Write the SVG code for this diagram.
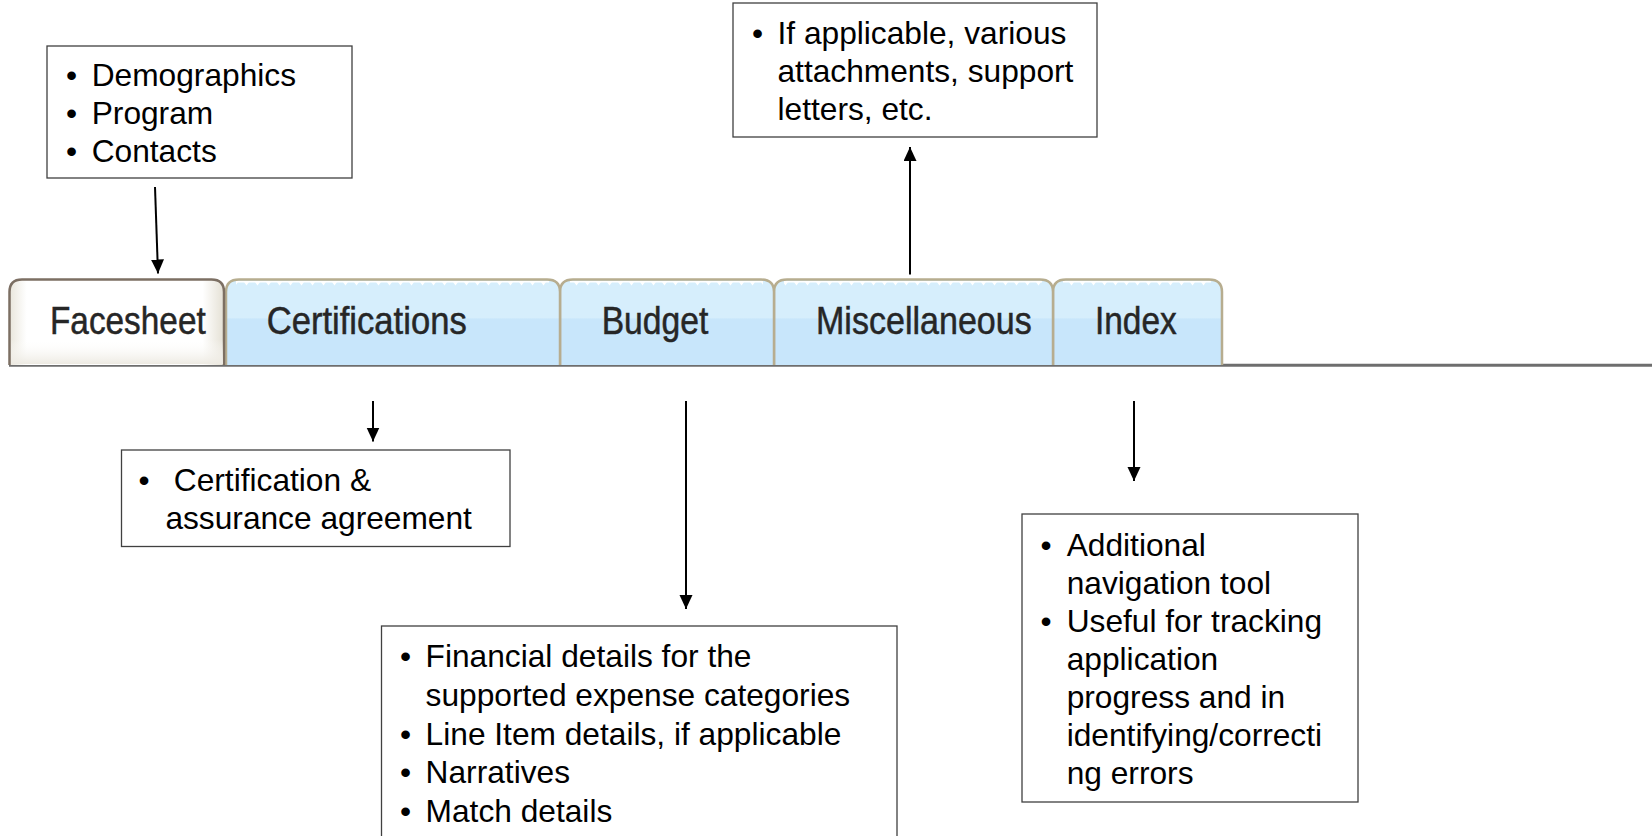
<svg xmlns="http://www.w3.org/2000/svg" width="1652" height="836" viewBox="0 0 1652 836">
<style>
.box{fill:#fff;stroke:#404040;stroke-width:1.3}
.t{font-family:"Liberation Sans",Arial,sans-serif;font-size:31.7px;fill:#000}
.tab{fill:url(#blue);stroke:#B7AD8F;stroke-width:2.5}
.tl{font-family:"Liberation Sans",Arial,sans-serif;font-size:38px;fill:#262626;stroke:#262626;stroke-width:0.5}
.conn{stroke:#000;stroke-width:2;fill:none;marker-end:url(#arr)}
</style>
<defs>
<marker id="arr" markerUnits="userSpaceOnUse" markerWidth="14" markerHeight="14" refX="14" refY="6.5" orient="auto">
<path d="M0,0 L14,6.5 L0,13 z" fill="#000"/>
</marker>
<linearGradient id="blue" x1="0" y1="0" x2="0" y2="1">
<stop offset="0" stop-color="#D6EEFC"/>
<stop offset="0.45" stop-color="#D6EEFC"/>
<stop offset="0.46" stop-color="#C8E6FB"/>
<stop offset="1" stop-color="#C8E6FB"/>
</linearGradient>
<linearGradient id="wh" x1="0" y1="0" x2="1" y2="0">
<stop offset="0" stop-color="#E9E6DC"/>
<stop offset="0.08" stop-color="#FFFFFF"/>
<stop offset="0.9" stop-color="#FFFFFF"/>
<stop offset="1" stop-color="#E4E0D4"/>
</linearGradient>
<linearGradient id="whv" x1="0" y1="0" x2="0" y2="1">
<stop offset="0.7" stop-color="#FFFFFF" stop-opacity="0"/>
<stop offset="1" stop-color="#EDEAE2" stop-opacity="1"/>
</linearGradient>
<pattern id="zig" x="0" y="281" width="11" height="5" patternUnits="userSpaceOnUse">
<rect x="0" y="0" width="11" height="1.5" fill="#fff"/>
<polygon points="2,1 7,1 4.5,4.5" fill="#fff"/>
</pattern>
</defs>

<g id="tabbar">
<line x1="9" y1="365.3" x2="1652" y2="365.3" stroke="#6E6E6E" stroke-width="3"/>
</g>

<g id="tab-index">
<path class="tab" d="M1053,365 V292 Q1053,279.5 1066,279.5 H1209 Q1222,279.5 1222,292 V365"/>
<rect x="1063" y="281" width="148" height="5" fill="url(#zig)"/>
<text class="tl" x="1095" y="334.3" textLength="81.7" lengthAdjust="spacingAndGlyphs">Index</text>
</g>
<g id="tab-misc">
<path class="tab" d="M774,365 V292 Q774,279.5 787,279.5 H1040 Q1053,279.5 1053,292 V365"/>
<rect x="784" y="281" width="258" height="5" fill="url(#zig)"/>
<text class="tl" x="816" y="334.3" textLength="215.7" lengthAdjust="spacingAndGlyphs">Miscellaneous</text>
</g>
<g id="tab-budget">
<path class="tab" d="M560,365 V292 Q560,279.5 573,279.5 H761 Q774,279.5 774,292 V365"/>
<rect x="570" y="281" width="193" height="5" fill="url(#zig)"/>
<text class="tl" x="601.7" y="334.3" textLength="106.6" lengthAdjust="spacingAndGlyphs">Budget</text>
</g>
<g id="tab-certifications">
<path class="tab" d="M226,365 V292 Q226,279.5 239,279.5 H547 Q560,279.5 560,292 V365"/>
<rect x="236" y="281" width="313" height="5" fill="url(#zig)"/>
<text class="tl" x="266.7" y="334.3" textLength="200" lengthAdjust="spacingAndGlyphs">Certifications</text>
</g>
<g id="tab-facesheet">
<path d="M9.5,365 V292 Q9.5,279.5 22,279.5 H211.5 Q224,279.5 224,292 V365" fill="url(#wh)" stroke="#7C6F63" stroke-width="2.5"/>
<rect x="11" y="281" width="212" height="83" fill="url(#whv)"/>
<text class="tl" x="50" y="334.3" textLength="155.7" lengthAdjust="spacingAndGlyphs">Facesheet</text>
</g>

<g id="box-facesheet">
<rect class="box" x="47" y="46" width="305" height="132"/>
<text class="t" x="66" y="86">•</text><text class="t" x="91.7" y="86">Demographics</text>
<text class="t" x="66" y="124">•</text><text class="t" x="91.7" y="124">Program</text>
<text class="t" x="66" y="162">•</text><text class="t" x="91.7" y="162">Contacts</text>
</g>

<g id="box-misc">
<rect class="box" x="733" y="3" width="364" height="134"/>
<text class="t" x="752" y="44">•</text><text class="t" x="777.5" y="44">If applicable, various</text>
<text class="t" x="777.5" y="82">attachments, support</text>
<text class="t" x="777.5" y="120">letters, etc.</text>
</g>

<g id="box-certifications">
<rect class="box" x="121.5" y="450" width="388.5" height="96.5"/>
<text class="t" x="138.4" y="491">•</text><text class="t" x="173.8" y="491">Certification &amp;</text>
<text class="t" x="165.4" y="529">assurance agreement</text>
</g>

<g id="box-budget">
<rect class="box" x="381.5" y="626" width="515.5" height="230"/>
<text class="t" x="400" y="667">•</text><text class="t" x="425.6" y="667">Financial details for the</text>
<text class="t" x="425.6" y="705.8">supported expense categories</text>
<text class="t" x="400" y="744.6">•</text><text class="t" x="425.6" y="744.6">Line Item details, if applicable</text>
<text class="t" x="400" y="783.4">•</text><text class="t" x="425.6" y="783.4">Narratives</text>
<text class="t" x="400" y="822">•</text><text class="t" x="425.6" y="822">Match details</text>
</g>

<g id="box-index">
<rect class="box" x="1022" y="514" width="336" height="288"/>
<text class="t" x="1040.4" y="556">•</text><text class="t" x="1066.7" y="556">Additional</text>
<text class="t" x="1066.7" y="594">navigation tool</text>
<text class="t" x="1040.4" y="632">•</text><text class="t" x="1066.7" y="632">Useful for tracking</text>
<text class="t" x="1066.7" y="670">application</text>
<text class="t" x="1066.7" y="708">progress and in</text>
<text class="t" x="1066.7" y="746">identifying/correcti</text>
<text class="t" x="1066.7" y="784">ng errors</text>
</g>

<g id="connectors">
<line class="conn" x1="155" y1="187" x2="158" y2="273.5"/>
<line class="conn" x1="910" y1="274.5" x2="910" y2="147"/>
<line class="conn" x1="373" y1="401" x2="373" y2="441.5"/>
<line class="conn" x1="686" y1="401" x2="686" y2="609"/>
<line class="conn" x1="1134" y1="401" x2="1134" y2="481"/>
</g>
</svg>
